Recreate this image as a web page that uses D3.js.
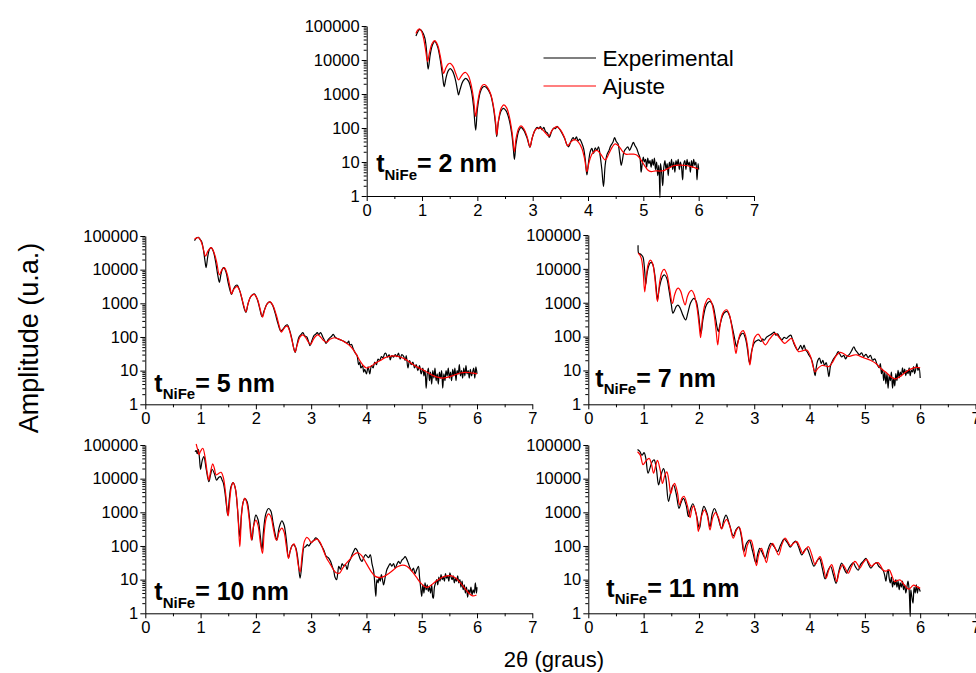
<!DOCTYPE html>
<html><head><meta charset="utf-8">
<script src="https://cdn.jsdelivr.net/npm/d3@7"></script>
<style>
body{margin:0;background:#fff}
svg text{font-family:"Liberation Sans",Arial,Helvetica,sans-serif;fill:#000}
</style>
</head><body>
<svg id="chart" width="976" height="673"></svg>
<script>
// X-ray reflectivity of NiFe films: measured curve (Experimental) and simulation (Ajuste)
// Each series: [2θ in degrees, amplitude in arbitrary units]

const exp2 = [[0.89,51000],[0.93,70000],[0.96,80000],[1.00,70000],[1.05,45000],[1.08,20000],[1.11,5400],[1.15,15000],[1.19,28000],[1.23,35000],[1.28,25000],[1.33,10000],[1.37,3500],[1.40,1650],[1.43,2800],[1.47,4700],[1.51,5600],[1.55,4800],[1.60,2800],[1.64,1300],[1.66,940],[1.69,1400],[1.74,2400],[1.79,2900],[1.84,2400],[1.89,1300],[1.93,450],[1.97,87],[2.00,350],[2.05,1100],[2.09,1550],[2.13,1660],[2.18,1450],[2.24,950],[2.29,400],[2.33,120],[2.35,56],[2.38,150],[2.43,320],[2.47,380],[2.52,320],[2.57,190],[2.62,70],[2.65,25],[2.67,12],[2.70,35],[2.75,85],[2.79,105],[2.84,85],[2.90,50],[2.95,27],[2.99,50],[3.04,85],[3.08,105],[3.11,95],[3.14,110],[3.17,88],[3.20,105],[3.23,80],[3.27,70],[3.30,53],[3.34,78],[3.38,100],[3.41,95],[3.44,112],[3.48,95],[3.53,70],[3.58,48],[3.62,32],[3.65,28],[3.69,40],[3.73,52],[3.76,45],[3.79,55],[3.82,42],[3.85,47],[3.89,35],[3.92,25],[3.95,12],[3.98,4.2],[4.01,10],[4.04,20],[4.07,25],[4.10,18],[4.13,26],[4.16,22],[4.19,28],[4.22,15],[4.25,6],[4.28,1.9],[4.31,8],[4.34,16],[4.38,22],[4.41,30],[4.45,38],[4.48,52],[4.51,40],[4.54,35],[4.57,18],[4.60,8],[4.62,11],[4.65,20],[4.68,24],[4.72,28],[4.75,22],[4.79,30],[4.82,38],[4.85,30],[4.88,25],[4.91,18],[4.94,13],[4.96,5],[4.98,9],[5.00,14],[5.02,10],[5.04,12],[5.06,7],[5.08,13],[5.10,9],[5.12,11],[5.14,7],[5.16,12],[5.18,8],[5.20,13],[5.22,6],[5.24,10],[5.26,4],[5.28,8],[5.30,0.9],[5.31,9],[5.33,5],[5.35,2],[5.37,7],[5.39,11],[5.41,6],[5.43,9],[5.45,4],[5.47,10],[5.49,7],[5.51,12],[5.53,6],[5.55,10],[5.57,5],[5.59,11],[5.61,8],[5.63,12],[5.65,6],[5.67,10],[5.69,7],[5.71,3],[5.73,9],[5.75,11],[5.77,6],[5.79,12],[5.81,8],[5.83,10],[5.85,5],[5.87,11],[5.89,7],[5.91,12],[5.93,8],[5.95,10],[5.97,3],[5.99,9],[6.00,6]];
const fit2 = [[0.89,60000],[0.92,75000],[0.95,82000],[0.98,75000],[1.02,50000],[1.06,22000],[1.10,9000],[1.13,15000],[1.18,30000],[1.23,37000],[1.28,28000],[1.33,13000],[1.37,5500],[1.39,4000],[1.43,5800],[1.47,7500],[1.51,8000],[1.56,6500],[1.61,4000],[1.66,2600],[1.70,3200],[1.75,4100],[1.79,4300],[1.84,3400],[1.89,1800],[1.93,750],[1.97,220],[2.00,500],[2.05,1300],[2.09,1800],[2.13,1900],[2.18,1600],[2.24,1000],[2.29,450],[2.33,150],[2.35,62],[2.38,160],[2.43,380],[2.48,480],[2.53,390],[2.58,210],[2.63,70],[2.67,20],[2.70,50],[2.75,100],[2.79,115],[2.84,95],[2.90,55],[2.95,28],[2.99,50],[3.04,85],[3.10,100],[3.16,95],[3.22,75],[3.29,58],[3.35,85],[3.43,110],[3.50,90],[3.57,55],[3.63,30],[3.68,37],[3.73,44],[3.77,45],[3.83,38],[3.89,25],[3.94,12],[3.98,5.2],[4.02,10],[4.08,18],[4.16,22],[4.23,17],[4.31,11.5],[4.38,18],[4.44,28],[4.49,34],[4.55,30],[4.62,21],[4.68,17],[4.75,17],[4.82,17],[4.88,16],[4.95,12],[5.02,8],[5.08,5.8],[5.14,5.2],[5.22,5.5],[5.30,5.4],[5.37,5.6],[5.45,6.5],[5.55,7.8],[5.66,8.1],[5.78,7.9],[5.88,7.2],[5.99,6.3]];

const exp5 = [[0.89,73000],[0.93,88000],[0.96,91000],[0.99,80000],[1.02,68000],[1.05,40000],[1.08,18000],[1.10,11500],[1.13,25000],[1.16,40000],[1.19,45000],[1.23,35000],[1.27,18000],[1.31,7000],[1.34,4200],[1.37,7500],[1.40,11000],[1.42,11500],[1.46,8500],[1.50,4000],[1.54,2200],[1.56,1850],[1.59,2500],[1.63,3300],[1.66,3500],[1.70,2600],[1.75,1300],[1.79,700],[1.82,540],[1.86,1000],[1.91,1600],[1.97,1900],[2.02,1400],[2.07,700],[2.11,400],[2.15,600],[2.20,950],[2.25,1100],[2.30,900],[2.35,500],[2.40,250],[2.45,150],[2.49,170],[2.53,210],[2.57,230],[2.61,160],[2.65,90],[2.68,50],[2.71,35],[2.74,55],[2.78,100],[2.82,120],[2.85,135],[2.88,110],[2.92,100],[2.95,75],[2.98,55],[3.01,75],[3.05,110],[3.08,120],[3.11,135],[3.14,118],[3.17,135],[3.21,100],[3.24,80],[3.27,65],[3.31,85],[3.34,95],[3.37,105],[3.40,120],[3.43,100],[3.47,90],[3.51,85],[3.55,80],[3.59,75],[3.62,70],[3.65,65],[3.68,75],[3.70,58],[3.73,60],[3.76,45],[3.80,33],[3.83,28],[3.86,15],[3.88,18],[3.90,12],[3.93,14],[3.95,9],[3.97,11],[4.00,8],[4.03,13],[4.06,8],[4.09,14],[4.12,12],[4.15,18],[4.18,15],[4.21,22],[4.24,20],[4.27,26],[4.30,24],[4.33,32],[4.35,33],[4.38,25],[4.41,30],[4.43,21],[4.46,28],[4.49,25],[4.52,30],[4.55,26],[4.58,33],[4.61,22],[4.64,30],[4.67,27],[4.70,20],[4.72,28],[4.75,12],[4.78,20],[4.81,15],[4.84,18],[4.87,12],[4.90,15],[4.93,10],[4.96,14],[4.99,8],[5.02,12],[5.04,7],[5.06,10],[5.08,3],[5.10,8],[5.12,12],[5.14,5],[5.16,9],[5.18,4],[5.20,10],[5.22,6],[5.24,12],[5.26,5],[5.28,8],[5.30,4],[5.32,9],[5.34,6],[5.36,10],[5.38,3],[5.40,8],[5.42,5],[5.44,10],[5.46,7],[5.48,12],[5.50,6],[5.52,9],[5.54,5],[5.56,11],[5.58,7],[5.60,12],[5.62,5],[5.64,10],[5.66,8],[5.68,15],[5.70,7],[5.72,10],[5.74,6],[5.76,12],[5.78,7],[5.80,14],[5.82,8],[5.84,10],[5.86,6],[5.88,11],[5.90,7],[5.92,9],[5.94,12],[5.96,6],[5.98,13],[6.00,8]];
const fit5 = [[0.89,80000],[0.93,88000],[0.96,90000],[1.00,75000],[1.03,55000],[1.06,35000],[1.09,25000],[1.13,35000],[1.19,45000],[1.24,33000],[1.29,17000],[1.34,7000],[1.38,9500],[1.43,11500],[1.48,7500],[1.53,3200],[1.56,1900],[1.60,2600],[1.66,3200],[1.71,2300],[1.77,1000],[1.82,560],[1.86,1000],[1.91,1600],[1.97,1850],[2.03,1300],[2.08,650],[2.12,390],[2.16,650],[2.21,1000],[2.26,1100],[2.31,850],[2.37,450],[2.42,220],[2.46,140],[2.50,170],[2.54,205],[2.57,210],[2.61,150],[2.66,70],[2.71,36],[2.75,60],[2.80,100],[2.85,115],[2.90,95],[2.95,70],[2.99,60],[3.04,85],[3.08,105],[3.12,115],[3.17,100],[3.22,80],[3.28,70],[3.34,85],[3.42,95],[3.49,88],[3.55,80],[3.62,68],[3.70,55],[3.76,42],[3.82,30],[3.88,20],[3.93,15],[4.00,12],[4.08,13.5],[4.17,17],[4.25,20],[4.33,24],[4.40,26],[4.48,27.5],[4.55,27],[4.62,25],[4.70,22],[4.78,18],[4.85,15],[4.93,12.5],[5.00,11],[5.08,9.3],[5.15,8],[5.22,7],[5.30,6.3],[5.38,6],[5.46,6.3],[5.55,7],[5.63,7.8],[5.70,8.5],[5.78,8.9],[5.85,8.8],[5.93,8.4],[6.00,8]];

const exp7 = [[0.90,50000],[0.91,29000],[0.93,28000],[0.96,26000],[0.99,22000],[1.01,13000],[1.03,5000],[1.04,3500],[1.06,7000],[1.09,12000],[1.12,15000],[1.14,15500],[1.17,13000],[1.20,7000],[1.23,2500],[1.25,1200],[1.28,2500],[1.32,4800],[1.35,6200],[1.38,6600],[1.42,5200],[1.46,2300],[1.50,900],[1.53,490],[1.56,600],[1.59,780],[1.62,850],[1.66,700],[1.71,430],[1.76,310],[1.80,500],[1.85,1000],[1.91,1350],[1.95,1100],[1.99,500],[2.02,180],[2.04,125],[2.07,300],[2.12,750],[2.16,1000],[2.20,1100],[2.25,850],[2.30,350],[2.33,180],[2.35,140],[2.38,220],[2.43,420],[2.47,520],[2.51,550],[2.55,420],[2.60,200],[2.65,80],[2.68,50],[2.71,75],[2.76,115],[2.80,125],[2.84,90],[2.88,40],[2.90,22],[2.92,16],[2.95,35],[3.00,65],[3.04,75],[3.08,80],[3.12,72],[3.15,85],[3.18,78],[3.22,95],[3.26,105],[3.30,115],[3.33,125],[3.36,135],[3.39,110],[3.42,120],[3.46,95],[3.50,80],[3.54,95],[3.58,88],[3.62,100],[3.66,110],[3.69,85],[3.72,60],[3.75,48],[3.78,40],[3.81,45],[3.84,55],[3.87,42],[3.90,56],[3.93,40],[3.96,35],[3.99,28],[4.02,24],[4.05,18],[4.08,10],[4.10,7],[4.12,12],[4.15,20],[4.18,23],[4.21,16],[4.24,20],[4.27,14],[4.30,17],[4.33,10],[4.35,6.6],[4.38,14],[4.42,20],[4.45,24],[4.48,28],[4.52,36],[4.55,30],[4.58,25],[4.62,28],[4.65,22],[4.68,26],[4.72,30],[4.76,38],[4.80,50],[4.83,40],[4.86,35],[4.90,29],[4.94,33],[4.98,26],[5.02,30],[5.06,24],[5.10,28],[5.14,20],[5.18,22],[5.22,15],[5.26,12],[5.28,16],[5.30,8],[5.32,11],[5.34,5],[5.36,9],[5.38,4],[5.40,8],[5.42,3],[5.44,7],[5.46,5],[5.48,9],[5.50,3],[5.52,6],[5.54,3.5],[5.56,8],[5.58,5],[5.60,10],[5.62,6],[5.64,9],[5.66,7],[5.68,12],[5.70,8],[5.72,11],[5.74,7],[5.76,10],[5.78,8],[5.80,12],[5.82,7],[5.84,10],[5.86,9],[5.88,13],[5.90,8],[5.92,11],[5.94,16],[5.96,10],[5.98,12],[6.00,6]];
const fit7 = [[0.90,29000],[0.93,26000],[0.96,20000],[0.99,9000],[1.02,2100],[1.05,6000],[1.08,13000],[1.12,18000],[1.16,15000],[1.20,6000],[1.25,1080],[1.29,4000],[1.33,8000],[1.37,9700],[1.42,7000],[1.47,2600],[1.52,950],[1.56,1700],[1.60,2500],[1.63,2700],[1.67,2200],[1.71,1300],[1.75,860],[1.79,1500],[1.83,2100],[1.87,2300],[1.91,1800],[1.96,800],[2.00,250],[2.03,93],[2.06,300],[2.11,900],[2.17,1350],[2.22,1100],[2.27,500],[2.31,150],[2.34,57],[2.37,150],[2.43,480],[2.50,620],[2.55,450],[2.60,170],[2.64,60],[2.67,32],[2.70,60],[2.75,125],[2.80,150],[2.84,110],[2.88,50],[2.92,14.5],[2.96,40],[3.01,95],[3.07,118],[3.13,85],[3.20,57],[3.28,85],[3.38,125],[3.46,90],[3.55,63],[3.61,75],[3.67,89],[3.73,60],[3.80,36],[3.87,38],[3.95,40],[4.01,28],[4.06,14],[4.10,9],[4.15,11.5],[4.22,14],[4.29,13.5],[4.35,13],[4.42,18],[4.48,27],[4.55,34],[4.62,31],[4.70,26],[4.78,28],[4.85,29],[4.92,26],[5.00,23],[5.10,20],[5.20,16],[5.30,11],[5.40,8.3],[5.48,6.3],[5.55,5.6],[5.63,6.5],[5.70,8],[5.78,10],[5.86,11.5],[5.93,12.3],[6.00,12]];

const exp10 = [[0.90,63000],[0.92,68000],[0.94,55000],[0.96,74000],[0.98,40000],[1.00,19000],[1.03,35000],[1.06,45000],[1.10,20000],[1.15,8100],[1.18,13000],[1.21,19000],[1.25,14000],[1.29,9100],[1.33,11000],[1.36,11500],[1.39,9000],[1.41,7600],[1.44,4000],[1.47,1500],[1.49,830],[1.52,2500],[1.55,5800],[1.59,7600],[1.63,5000],[1.66,1800],[1.69,400],[1.71,190],[1.74,900],[1.77,2000],[1.80,2600],[1.84,2100],[1.88,800],[1.91,250],[1.93,150],[1.96,400],[2.00,830],[2.04,600],[2.08,200],[2.11,76],[2.14,300],[2.18,900],[2.23,1300],[2.27,1100],[2.31,500],[2.35,220],[2.38,150],[2.42,350],[2.47,560],[2.51,420],[2.55,160],[2.59,45],[2.62,70],[2.65,100],[2.68,110],[2.72,90],[2.76,40],[2.80,11],[2.84,40],[2.87,90],[2.90,95],[2.93,110],[2.96,100],[2.99,120],[3.02,135],[3.05,150],[3.08,175],[3.11,165],[3.15,130],[3.19,100],[3.23,75],[3.27,50],[3.31,45],[3.35,35],[3.38,25],[3.41,18],[3.43,12],[3.46,10],[3.48,15],[3.50,25],[3.53,20],[3.56,30],[3.59,25],[3.62,28],[3.65,20],[3.68,32],[3.71,40],[3.74,55],[3.77,70],[3.80,85],[3.83,75],[3.86,55],[3.89,40],[3.92,35],[3.95,45],[3.98,55],[4.01,50],[4.04,45],[4.07,55],[4.10,30],[4.13,18],[4.15,8],[4.17,3.2],[4.19,10],[4.21,8],[4.23,12],[4.25,9],[4.27,14],[4.29,10],[4.31,7],[4.34,12],[4.37,20],[4.40,25],[4.43,30],[4.46,25],[4.49,30],[4.52,22],[4.55,28],[4.58,35],[4.61,30],[4.64,38],[4.67,42],[4.70,48],[4.73,40],[4.76,30],[4.79,22],[4.82,18],[4.85,22],[4.88,15],[4.91,20],[4.94,25],[4.96,12],[4.98,6],[5.00,3.2],[5.02,7],[5.04,4],[5.06,8],[5.08,5],[5.10,7],[5.12,4.5],[5.14,6],[5.16,4],[5.18,7],[5.20,3],[5.21,2.8],[5.23,6],[5.25,8],[5.27,10],[5.29,7],[5.31,12],[5.33,9],[5.35,14],[5.37,10],[5.39,12],[5.41,9],[5.43,15],[5.45,11],[5.47,13],[5.49,9],[5.51,16],[5.53,12],[5.55,10],[5.57,13],[5.59,8],[5.61,11],[5.63,9],[5.65,13],[5.67,8],[5.69,10],[5.71,6],[5.73,9],[5.75,5],[5.77,7],[5.79,4],[5.81,6],[5.83,3],[5.85,5],[5.87,4],[5.89,6],[5.91,3.5],[5.93,5],[5.95,4],[5.97,8],[5.99,4],[6.00,6]];
const fit10 = [[0.92,107000],[0.95,70000],[0.97,52000],[1.00,65000],[1.04,80000],[1.08,45000],[1.12,15000],[1.15,9000],[1.18,16000],[1.22,27500],[1.25,20000],[1.28,13000],[1.32,14000],[1.37,15500],[1.41,11000],[1.45,4000],[1.48,1200],[1.50,780],[1.53,2500],[1.56,6000],[1.59,7600],[1.63,5000],[1.67,1200],[1.71,95],[1.74,800],[1.77,2000],[1.80,2600],[1.84,1800],[1.88,600],[1.92,150],[1.96,400],[2.00,590],[2.04,400],[2.08,130],[2.12,60],[2.15,250],[2.19,700],[2.23,900],[2.27,750],[2.32,300],[2.36,160],[2.38,150],[2.42,260],[2.47,340],[2.51,260],[2.55,100],[2.59,43],[2.62,70],[2.66,105],[2.69,115],[2.73,70],[2.77,25],[2.80,17],[2.84,60],[2.88,140],[2.92,180],[2.96,160],[3.00,125],[3.05,145],[3.11,160],[3.16,130],[3.22,75],[3.28,43],[3.34,30],[3.40,20],[3.45,16],[3.51,15.5],[3.57,22],[3.63,30],[3.70,40],[3.77,55],[3.85,63],[3.92,50],[4.00,30],[4.08,18],[4.16,12.5],[4.24,11.5],[4.32,12.5],[4.40,15],[4.48,19],[4.56,24],[4.65,27],[4.73,25],[4.82,18],[4.90,12],[4.98,8],[5.04,6.5],[5.09,5.9],[5.15,6.5],[5.22,8],[5.30,10],[5.38,12],[5.46,13],[5.54,13],[5.62,11],[5.70,8],[5.78,5.5],[5.85,4],[5.92,3.3],[5.99,3.5]];

const exp11 = [[0.89,74000],[0.93,65000],[0.97,50000],[1.01,59000],[1.04,40000],[1.08,14500],[1.12,22000],[1.16,33000],[1.19,36000],[1.23,20000],[1.27,6500],[1.31,12000],[1.36,20000],[1.40,11000],[1.45,2100],[1.49,4000],[1.54,6500],[1.59,3500],[1.64,1300],[1.68,2000],[1.72,2600],[1.77,1600],[1.81,750],[1.85,1300],[1.89,1800],[1.95,900],[2.01,330],[2.05,900],[2.09,1500],[2.15,900],[2.20,370],[2.24,900],[2.28,1300],[2.34,750],[2.41,330],[2.45,600],[2.49,830],[2.55,450],[2.62,200],[2.67,300],[2.72,370],[2.77,180],[2.81,68],[2.86,120],[2.91,150],[2.97,70],[3.03,31],[3.06,55],[3.10,85],[3.15,60],[3.20,43],[3.25,80],[3.30,120],[3.36,95],[3.42,68],[3.48,110],[3.54,160],[3.60,125],[3.65,93],[3.70,120],[3.75,140],[3.80,95],[3.86,54],[3.90,70],[3.95,85],[4.01,50],[4.08,25],[4.13,35],[4.18,43],[4.23,22],[4.28,10.5],[4.33,18],[4.38,25],[4.43,14],[4.48,7.8],[4.53,18],[4.58,31],[4.62,22],[4.67,15.5],[4.70,20],[4.74,26],[4.79,32],[4.83,24],[4.88,19],[4.92,28],[4.97,35],[5.02,43],[5.06,30],[5.11,22],[5.16,28],[5.21,32],[5.25,25],[5.29,22],[5.33,19],[5.36,13],[5.38,9],[5.40,15],[5.42,20],[5.44,11],[5.46,8],[5.48,12],[5.50,6],[5.52,9],[5.54,7],[5.56,10],[5.58,6],[5.60,9],[5.62,5],[5.64,8],[5.66,6],[5.68,9],[5.70,5],[5.72,7],[5.74,4],[5.76,6],[5.78,9],[5.80,5],[5.82,0.8],[5.83,5],[5.85,3],[5.87,2],[5.89,6],[5.91,4],[5.93,7],[5.95,4],[5.97,6],[5.99,5],[6.00,4.4]];
const fit11 = [[0.89,63000],[0.94,50000],[0.99,26000],[1.04,33000],[1.10,40000],[1.14,28000],[1.18,14500],[1.22,25000],[1.25,35000],[1.30,18000],[1.34,7200],[1.38,12000],[1.42,16000],[1.46,8000],[1.49,3600],[1.53,6000],[1.56,7200],[1.61,4000],[1.65,1650],[1.69,2600],[1.73,3000],[1.79,1600],[1.84,700],[1.87,1200],[1.90,1550],[1.95,900],[1.99,270],[2.04,700],[2.10,1180],[2.15,800],[2.20,300],[2.25,700],[2.30,980],[2.36,650],[2.41,320],[2.46,500],[2.50,620],[2.56,380],[2.62,170],[2.68,300],[2.73,360],[2.78,170],[2.83,48],[2.88,110],[2.94,150],[2.99,75],[3.04,26],[3.08,55],[3.13,85],[3.18,50],[3.22,32],[3.27,75],[3.33,120],[3.38,85],[3.44,54],[3.50,110],[3.56,170],[3.61,130],[3.66,100],[3.71,120],[3.77,135],[3.82,95],[3.88,60],[3.93,80],[3.98,95],[4.04,55],[4.10,28],[4.15,40],[4.19,48],[4.25,24],[4.30,11],[4.35,20],[4.40,28],[4.45,15],[4.49,8.7],[4.54,18],[4.60,28],[4.65,21],[4.70,15.5],[4.76,25],[4.82,35],[4.87,28],[4.91,22],[4.97,32],[5.03,40],[5.08,30],[5.12,25],[5.18,30],[5.24,32],[5.29,25],[5.33,19],[5.38,18],[5.44,19.5],[5.49,13],[5.54,8.7],[5.59,9.5],[5.64,9.8],[5.71,7],[5.79,5.2],[5.84,6],[5.88,6.9],[5.94,6.2],[6.00,5.5]];

// axis values
const yMajorTicks = [1, 10, 100, 1000, 10000, 100000];
const xMajorTicks = [0, 1, 2, 3, 4, 5, 6, 7];
const xMinorTicks = [0.5, 1.5, 2.5, 3.5, 4.5, 5.5, 6.5];
const thicknesses = ["2 nm", "5 nm", "7 nm", "10 nm", "11 nm"];
const seriesNames = ["Experimental", "Ajuste"];

// panel frames in pixels: plot left/right (2θ = 0..7) and top/bottom (1e5..1)
const frames = [
  {x0: 366.7, x1: 754.0, y0: 26,  y1: 196,   tag: [9.5, -24]},
  {x0: 145.3, x1: 532.3, y0: 236, y1: 404.3, tag: [9, -12.5]},
  {x0: 588.3, x1: 975.5, y0: 235, y1: 404.3, tag: [7, -17.5]},
  {x0: 145.3, x1: 532.3, y0: 445, y1: 613.3, tag: [9, -13]},
  {x0: 588.3, x1: 975.5, y0: 445, y1: 613.3, tag: [18, -16.5]}
];
const measured = [exp2, exp5, exp7, exp10, exp11];
const fitted = [fit2, fit5, fit7, fit10, fit11];

const yMinorTicks = [];
for (let d = 1; d < 100000; d *= 10) for (let k = 2; k <= 9; k++) yMinorTicks.push(d * k);

const svg = d3.select("#chart");
const TICK_FONT = "16.5px";

frames.forEach((f, i) => {
  const x = d3.scaleLinear().domain([0, 7]).range([f.x0, f.x1]);
  const y = d3.scaleLog().domain([1, 100000]).range([f.y1, f.y0]);
  const g = svg.append("g");

  // minor ticks
  g.append("g").attr("transform", `translate(${f.x0},0)`)
    .call(d3.axisLeft(y).tickValues(yMinorTicks).tickSize(3).tickFormat(""))
    .call(s => s.select(".domain").remove());
  g.append("g").attr("transform", `translate(0,${f.y1})`)
    .call(d3.axisBottom(x).tickValues(xMinorTicks).tickSize(3).tickFormat(""))
    .call(s => s.select(".domain").remove());

  // major axes
  const ya = g.append("g").attr("transform", `translate(${f.x0},0)`)
    .call(d3.axisLeft(y).tickValues(yMajorTicks).tickSize(5).tickSizeOuter(0).tickPadding(2).tickFormat(d3.format("d")));
  const xa = g.append("g").attr("transform", `translate(0,${f.y1})`)
    .call(d3.axisBottom(x).tickValues(xMajorTicks).tickSize(5).tickSizeOuter(0).tickPadding(3).tickFormat(d3.format("d")));
  [ya, xa].forEach(a => {
    a.selectAll("text").style("font-size", TICK_FONT).attr("fill", "#000");
    a.selectAll("line,path").attr("stroke", "#000").attr("stroke-width", 1);
  });
  g.selectAll("line").attr("stroke", "#000");

  const line = d3.line().x(d => x(d[0])).y(d => y(d[1])).curve(d3.curveCatmullRom.alpha(0.5));
  g.append("path").datum(measured[i]).attr("d", line)
    .attr("fill", "none").attr("stroke", "#000").attr("stroke-width", 1.2).attr("stroke-linejoin", "round");
  g.append("path").datum(fitted[i]).attr("d", line)
    .attr("fill", "none").attr("stroke", "#ff0000").attr("stroke-width", 1.2).attr("stroke-linejoin", "round");

  // thickness tag
  const t = g.append("text")
    .attr("x", f.x0 + f.tag[0]).attr("y", f.y1 + f.tag[1])
    .style("font-weight", "bold").style("font-size", "25px");
  t.append("tspan").text("t");
  t.append("tspan").text("NiFe").style("font-size", "15px").attr("dy", 7.5);
  t.append("tspan").text("= " + thicknesses[i]).attr("dy", -7.5);
});

// legend in the first panel
const legend = svg.append("g");
[["#000", 58], ["#ff0000", 86]].forEach((c, k) => {
  legend.append("line").attr("x1", 543.5).attr("x2", 596).attr("y1", c[1]).attr("y2", c[1])
    .attr("stroke", c[0]).attr("stroke-width", 1.2);
  legend.append("text").attr("x", 602.5).attr("y", c[1] + 8)
    .style("font-size", "22.5px").text(seriesNames[k]);
});

// axis titles
svg.append("text").attr("transform", "translate(38,338) rotate(-90)")
  .attr("text-anchor", "middle").style("font-size", "27px").text("Amplitude (u.a.)");
svg.append("text").attr("x", 554).attr("y", 667)
  .attr("text-anchor", "middle").style("font-size", "22px").text("2θ (graus)");
</script>
</body></html>
